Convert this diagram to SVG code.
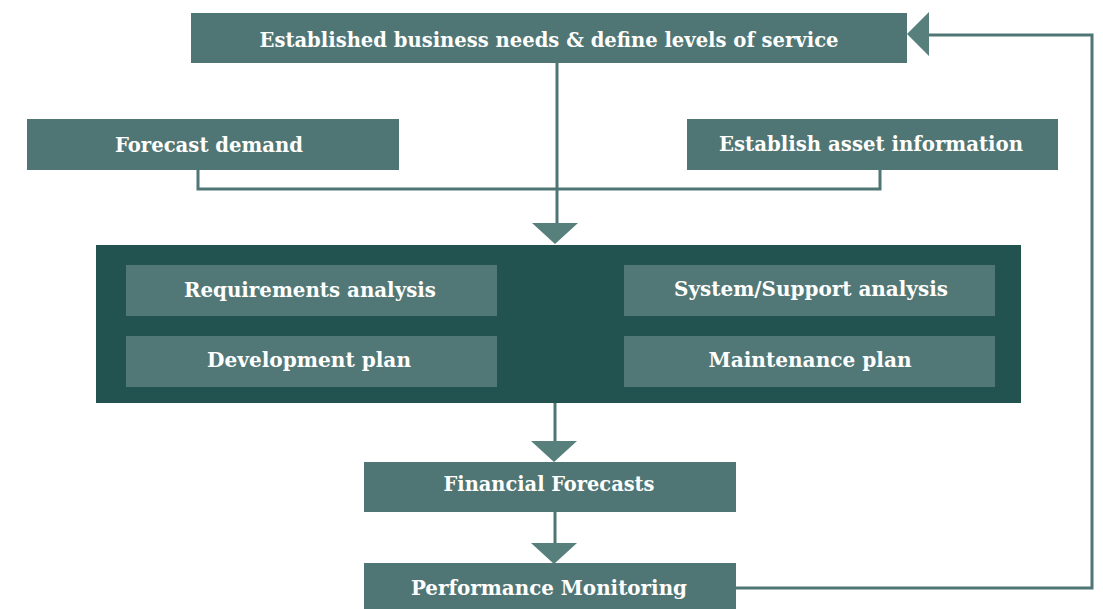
<svg xmlns="http://www.w3.org/2000/svg" width="1103" height="609" viewBox="0 0 1103 609">
  <style>
    .box { fill: #4f7674; }
    .inner { fill: #517876; }
    .frame { fill: #225350; }
    .lbl { fill: #ffffff; font-family: "DejaVu Serif", "Liberation Serif", serif; font-weight: bold; font-stretch: condensed; font-size: 21px; text-anchor: middle; }
    .wire { fill: none; stroke: #4f7674; stroke-width: 3; }
    .head { fill: #57807c; }
  </style>

  <!-- Connectors -->
  <g id="connectors">
    <line class="wire" x1="557" y1="63" x2="557" y2="224"/>
    <polyline class="wire" points="198,170 198,189 880,189 880,170"/>
    <polygon class="head" points="532,223 578,223 555,244"/>
    <line class="wire" x1="555" y1="403" x2="555" y2="442"/>
    <polygon class="head" points="531,441 577,441 554,462"/>
    <line class="wire" x1="555" y1="512" x2="555" y2="544"/>
    <polygon class="head" points="531,543 577,543 554,564"/>
    <polyline class="wire" points="736,588 1092,588 1092,35 928,35"/>
    <polygon class="head" points="929,12 929,56 907,34"/>
  </g>

  <g id="needs">
    <rect class="box" x="191" y="13" width="716" height="50"/>
    <text class="lbl" x="549" y="47" textLength="579" lengthAdjust="spacingAndGlyphs">Established business needs &amp; define levels of service</text>
  </g>

  <g id="forecast-demand">
    <rect class="box" x="27" y="119" width="372" height="51"/>
    <text class="lbl" x="209" y="152" textLength="188" lengthAdjust="spacingAndGlyphs">Forecast demand</text>
  </g>

  <g id="asset-information">
    <rect class="box" x="687" y="119" width="371" height="51"/>
    <text class="lbl" x="871" y="151" textLength="304" lengthAdjust="spacingAndGlyphs">Establish asset information</text>
  </g>

  <g id="planning">
    <rect class="frame" x="96" y="245" width="925" height="158"/>
    <g id="requirements-analysis">
      <rect class="inner" x="126" y="265" width="371" height="51"/>
      <text class="lbl" x="310" y="297" textLength="252" lengthAdjust="spacingAndGlyphs">Requirements analysis</text>
    </g>
    <g id="development-plan">
      <rect class="inner" x="126" y="336" width="371" height="51"/>
      <text class="lbl" x="309" y="367" textLength="204" lengthAdjust="spacingAndGlyphs">Development plan</text>
    </g>
    <g id="system-support-analysis">
      <rect class="inner" x="624" y="265" width="371" height="51"/>
      <text class="lbl" x="811" y="296" textLength="274" lengthAdjust="spacingAndGlyphs">System/Support analysis</text>
    </g>
    <g id="maintenance-plan">
      <rect class="inner" x="624" y="336" width="371" height="51"/>
      <text class="lbl" x="810" y="367" textLength="203" lengthAdjust="spacingAndGlyphs">Maintenance plan</text>
    </g>
  </g>

  <g id="financial-forecasts">
    <rect class="box" x="364" y="462" width="372" height="50"/>
    <text class="lbl" x="549" y="491" textLength="211" lengthAdjust="spacingAndGlyphs">Financial Forecasts</text>
  </g>

  <g id="performance-monitoring">
    <rect class="box" x="364" y="563" width="372" height="46"/>
    <text class="lbl" x="549" y="595" textLength="276" lengthAdjust="spacingAndGlyphs">Performance Monitoring</text>
  </g>
</svg>
